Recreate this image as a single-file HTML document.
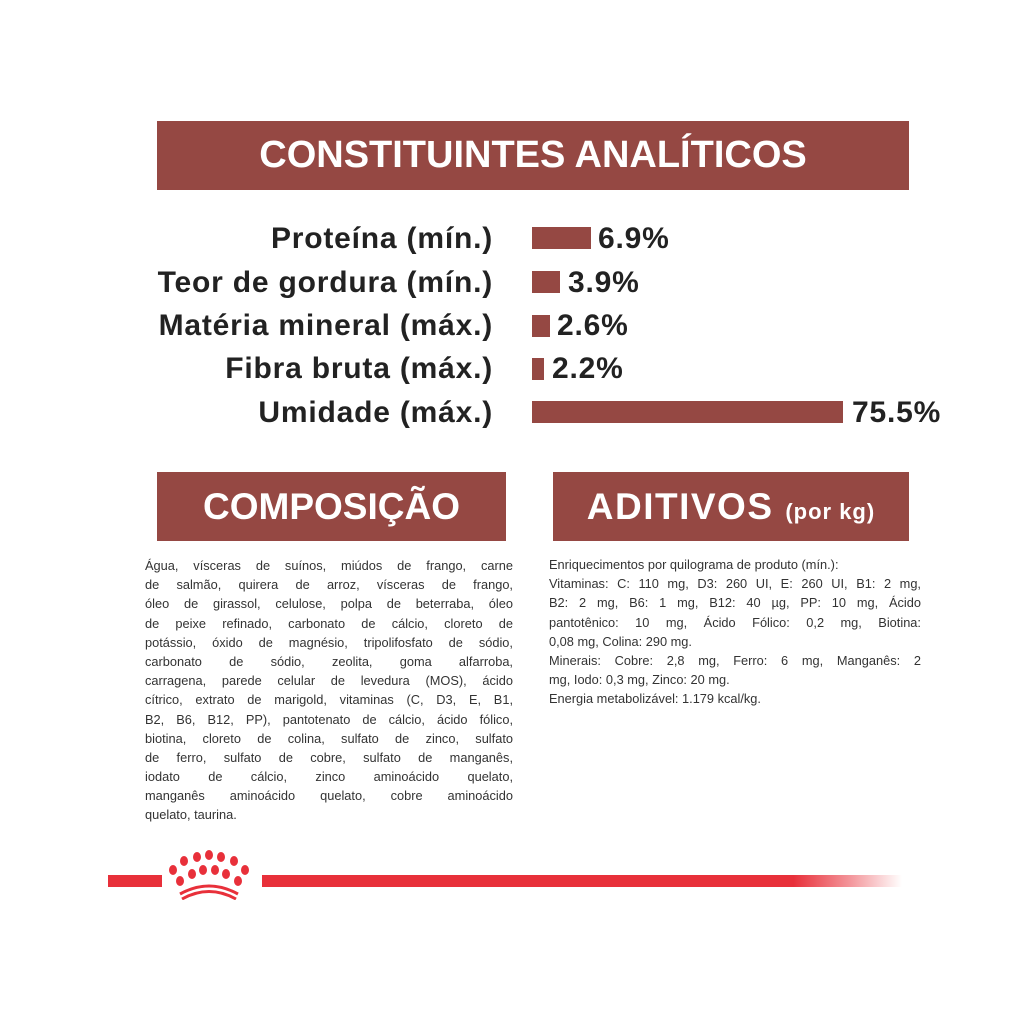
<!DOCTYPE html>
<html><head><meta charset="utf-8"><style>
body{margin:0;width:1024px;height:1024px;background:#fff;position:relative;overflow:hidden;font-family:"Liberation Sans",sans-serif;}
.box{position:absolute;background:#954843;color:#fff;font-weight:bold;display:flex;align-items:center;justify-content:center;white-space:nowrap}
.box span{display:inline-block}
.lab{position:absolute;right:531px;font-weight:bold;font-size:30px;letter-spacing:0.8px;color:#222;white-space:nowrap;line-height:30px}
.bar{position:absolute;left:532px;height:22px;background:#954843}
.val{position:absolute;font-weight:bold;font-size:30px;letter-spacing:0.8px;color:#222;line-height:30px}
.txt{position:absolute;font-size:12.8px;color:#333;}
.txt div{height:19.2px;line-height:19.2px;text-align:justify;text-align-last:justify;white-space:nowrap;overflow:hidden}
.txt div.l{text-align-last:left}
</style></head><body>
<div class="box" style="left:157px;top:121px;width:752px;height:69px;font-size:38px;letter-spacing:0px"><span>CONSTITUINTES ANALÍTICOS</span></div>

<div class="lab" style="top:224px">Proteína (mín.)</div>
<div class="bar" style="top:227px;width:59px"></div>
<div class="val" style="left:598px;top:224px">6.9%</div>
<div class="lab" style="top:268px">Teor de gordura (mín.)</div>
<div class="bar" style="top:271px;width:28px"></div>
<div class="val" style="left:568px;top:268px">3.9%</div>
<div class="lab" style="top:311px">Matéria mineral (máx.)</div>
<div class="bar" style="top:315px;width:18px"></div>
<div class="val" style="left:557px;top:311px">2.6%</div>
<div class="lab" style="top:354px">Fibra bruta (máx.)</div>
<div class="bar" style="top:358px;width:12px"></div>
<div class="val" style="left:552px;top:354px">2.2%</div>
<div class="lab" style="top:398px">Umidade (máx.)</div>
<div class="bar" style="top:401px;width:311px"></div>
<div class="val" style="left:852px;top:398px">75.5%</div>

<div class="box" style="left:157px;top:472px;width:349px;height:69px;font-size:37px;letter-spacing:0px"><span>COMPOSIÇÃO</span></div>
<div class="box" style="left:553px;top:472px;width:356px;height:69px;font-size:37px;letter-spacing:1.5px"><span>ADITIVOS <span style="font-size:22px;letter-spacing:1px">(por kg)</span></span></div>

<div class="txt" style="left:145px;top:556px;width:368px">
<div>Água, vísceras de suínos, miúdos de frango, carne</div>
<div>de salmão, quirera de arroz, vísceras de frango,</div>
<div>óleo de girassol, celulose, polpa de beterraba, óleo</div>
<div>de peixe refinado, carbonato de cálcio, cloreto de</div>
<div>potássio, óxido de magnésio, tripolifosfato de sódio,</div>
<div>carbonato de sódio, zeolita, goma alfarroba,</div>
<div>carragena, parede celular de levedura (MOS), ácido</div>
<div>cítrico, extrato de marigold, vitaminas (C, D3, E, B1,</div>
<div>B2, B6, B12, PP), pantotenato de cálcio, ácido fólico,</div>
<div>biotina, cloreto de colina, sulfato de zinco, sulfato</div>
<div>de ferro, sulfato de cobre, sulfato de manganês,</div>
<div>iodato de cálcio, zinco aminoácido quelato,</div>
<div>manganês aminoácido quelato, cobre aminoácido</div>
<div class="l">quelato, taurina.</div>
</div>

<div class="txt" style="left:549px;top:555px;width:372px">
<div class="l">Enriquecimentos por quilograma de produto (mín.):</div>
<div>Vitaminas: C: 110 mg, D3: 260 UI, E: 260 UI, B1: 2 mg,</div>
<div>B2: 2 mg, B6: 1 mg, B12: 40 µg, PP: 10 mg, Ácido</div>
<div>pantotênico: 10 mg, Ácido Fólico: 0,2 mg, Biotina:</div>
<div class="l">0,08 mg, Colina: 290 mg.</div>
<div>Minerais: Cobre: 2,8 mg, Ferro: 6 mg, Manganês: 2</div>
<div class="l">mg, Iodo: 0,3 mg, Zinco: 20 mg.</div>
<div class="l">Energia metabolizável: 1.179 kcal/kg.</div>
</div>

<div style="position:absolute;left:108px;top:875px;width:54px;height:12px;background:#e8303a"></div>
<div style="position:absolute;left:262px;top:875px;width:640px;height:12px;background:linear-gradient(to right,#e8303a 0%,#e8303a 83%,rgba(232,48,58,0.5) 92%,rgba(232,48,58,0) 100%)"></div>
<svg style="position:absolute;left:160px;top:848px" width="96" height="52" viewBox="0 0 96 52">
<g fill="#e8303a">
<ellipse cx="13" cy="22" rx="4" ry="5"/><ellipse cx="24" cy="13" rx="4" ry="5"/><ellipse cx="37" cy="9" rx="4" ry="5"/><ellipse cx="49" cy="7" rx="4" ry="5"/><ellipse cx="61" cy="9" rx="4" ry="5"/><ellipse cx="74" cy="13" rx="4" ry="5"/><ellipse cx="85" cy="22" rx="4" ry="5"/>
<ellipse cx="20" cy="33" rx="4" ry="5"/><ellipse cx="32" cy="26" rx="4" ry="5"/><ellipse cx="43" cy="22" rx="4" ry="5"/><ellipse cx="55" cy="22" rx="4" ry="5"/><ellipse cx="66" cy="26" rx="4" ry="5"/><ellipse cx="78" cy="33" rx="4" ry="5"/>
</g>
<path d="M20 46 Q49 30 78 46" stroke="#e8303a" stroke-width="3" fill="none"/>
<path d="M22 51 Q49 36 76 51" stroke="#e8303a" stroke-width="3" fill="none"/>
</svg>
</body></html>
